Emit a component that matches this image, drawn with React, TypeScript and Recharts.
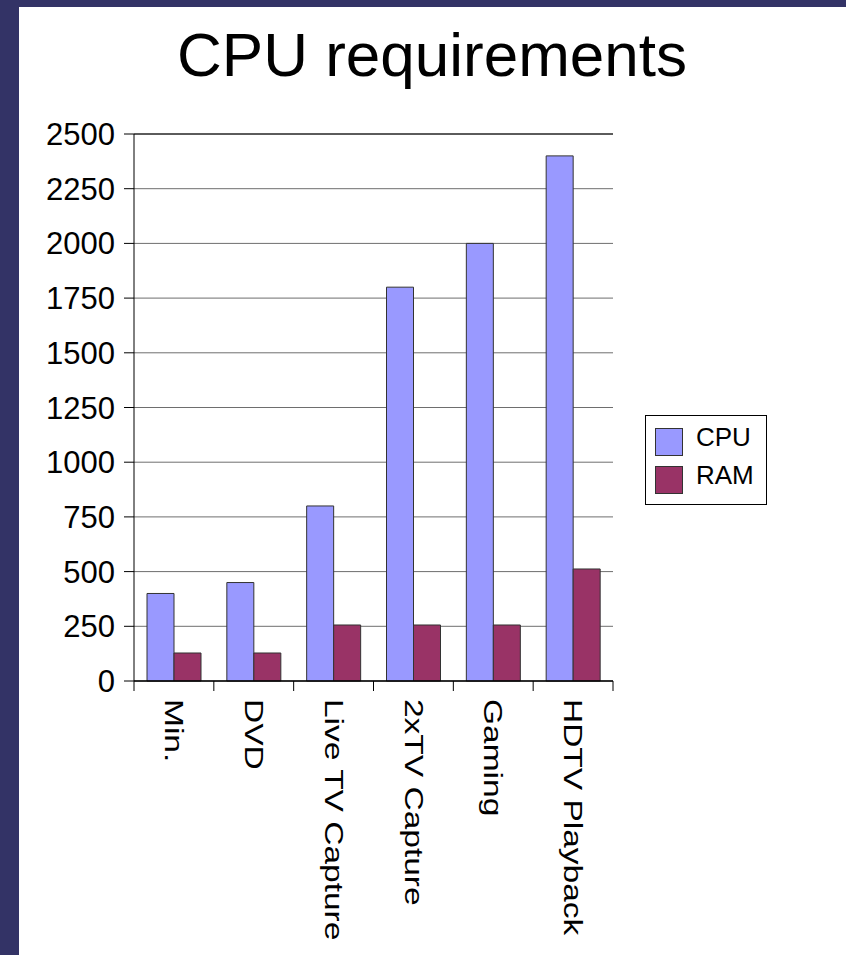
import React from "react";
import {
  Bar,
  BarChart,
  CartesianGrid,
  ReferenceLine,
  XAxis,
  YAxis,
} from "recharts";

const CATEGORIES = ["Min.", "DVD", "Live TV Capture", "2xTV Capture", "Gaming", "HDTV Playback"];
const CPU = [400, 450, 800, 1800, 2000, 2400];
const RAM = [128, 128, 256, 256, 256, 512];
const Y_TICKS = [0, 250, 500, 750, 1000, 1250, 1500, 1750, 2000, 2250, 2500];

const CPU_COLOR = "#9999ff";
const RAM_COLOR = "#993366";
const FONT = "'Liberation Sans', Arial, Helvetica, sans-serif";

const W = 846;
const H = 955;
const MARGIN = { top: 134, right: 233, left: 0, bottom: 0 };
const Y_AXIS_W = 134;
const X_AXIS_H = 274;
const PLOT_W = W - Y_AXIS_W - MARGIN.right;

const data = CATEGORIES.map((name, i) => ({ name, CPU: CPU[i], RAM: RAM[i] }));

function XTick(props: any) {
  const { x, y, payload, index } = props;
  const band = PLOT_W / CATEGORIES.length;
  const ty = y + 18;
  return (
    <g>
      <line x1={x - band / 2} x2={x - band / 2} y1={y} y2={y + 10} stroke="#000" />
      {index === CATEGORIES.length - 1 && (
        <line x1={x + band / 2} x2={x + band / 2} y1={y} y2={y + 10} stroke="#000" />
      )}
      <text
        transform={`translate(${x},${ty}) rotate(90) scale(1.34,1)`}
        textAnchor="start"
        dominantBaseline="central"
        fontSize={25}
        fontFamily={FONT}
        fill="#000"
      >
        {payload.value}
      </text>
    </g>
  );
}

function LegendBox() {
  const items = [
    { label: "CPU", color: CPU_COLOR },
    { label: "RAM", color: RAM_COLOR },
  ];
  return (
    <div
      style={{
        position: "absolute",
        left: 645,
        top: 415,
        width: 122,
        height: 90,
        border: "1px solid #000",
        background: "#fff",
        boxSizing: "border-box",
        paddingTop: 12,
        paddingLeft: 9,
        fontFamily: FONT,
      }}
    >
      {items.map((it) => (
        <div
          key={it.label}
          style={{ display: "flex", alignItems: "center", height: 28, marginBottom: 10 }}
        >
          <span
            style={{
              display: "inline-block",
              width: 28,
              height: 28,
              background: it.color,
              border: "1px solid #333",
              boxSizing: "border-box",
              marginRight: 13,
            }}
          />
          <span
            style={{ fontSize: 26, lineHeight: "28px", color: "#000", position: "relative", top: -5 }}
          >
            {it.label}
          </span>
        </div>
      ))}
    </div>
  );
}

export default function App() {
  return (
    <div style={{ position: "absolute", left: 0, top: 0, width: W, height: H, background: "#333366" }}>
      <div style={{ position: "absolute", left: 19, top: 7, right: 0, bottom: 0, background: "#fff" }} />
      <svg style={{ position: "absolute", left: 0, top: 0 }} width={W} height={110}>
        <text x={432} y={76} textAnchor="middle" fontSize={62} fontFamily={FONT} fill="#000">
          CPU requirements
        </text>
      </svg>
      <div style={{ position: "absolute", left: 0, top: 0 }}>
        <BarChart
          width={W}
          height={H}
          data={data}
          margin={MARGIN}
          barCategoryGap={13}
          barGap={0}
        >
          <CartesianGrid horizontal vertical={false} stroke="#6e6e6e" />
          <ReferenceLine y={2500} stroke="#000" />
          <XAxis
            dataKey="name"
            height={X_AXIS_H}
            interval={0}
            tickLine={false}
            tickSize={0}
            tickMargin={0}
            axisLine={{ stroke: "#000", strokeWidth: 1.5 }}
            tick={<XTick />}
          />
          <YAxis
            width={Y_AXIS_W}
            domain={[0, 2500]}
            ticks={Y_TICKS}
            interval={0}
            tickSize={10}
            tickMargin={9}
            axisLine={{ stroke: "#000" }}
            tickLine={{ stroke: "#000" }}
            tick={{ fontSize: 31, fontFamily: FONT, fill: "#000" }}
          />
          <Bar dataKey="CPU" fill={CPU_COLOR} stroke="#333" strokeWidth={1} isAnimationActive={false} />
          <Bar dataKey="RAM" fill={RAM_COLOR} stroke="#333" strokeWidth={1} isAnimationActive={false} />
        </BarChart>
      </div>
      <LegendBox />
    </div>
  );
}
